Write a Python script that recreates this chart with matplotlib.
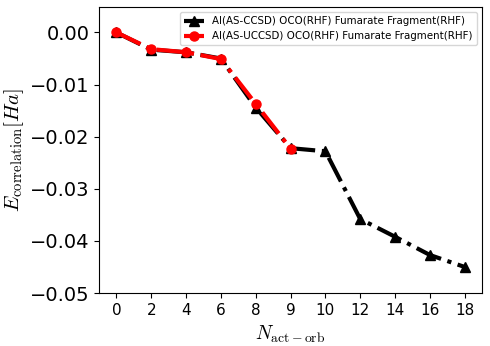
import numpy as np
import matplotlib
matplotlib.use("Agg")
import matplotlib.pyplot as plt

plt.rcParams["mathtext.fontset"] = "cm"

labels = ["0", "2", "4", "6", "8", "9", "10", "12", "14", "16", "18"]
ccsd = [0.0, -0.0033, -0.0038, -0.0050, -0.0144, -0.0222, -0.0228, -0.0358, -0.0392, -0.0427, -0.0450]
uccsd = [0.0, -0.0032, -0.0038, -0.0051, -0.0137, -0.0223]

x = np.arange(len(labels))

fig = plt.figure(figsize=(4.9, 3.46), dpi=100)
ax = fig.add_axes([0.202, 0.153, 0.782, 0.827])

ax.plot(x, ccsd, color="black", linestyle="-.", linewidth=3, marker="^", markersize=6.5,
        label="AI(AS-CCSD) OCO(RHF) Fumarate Fragment(RHF)")
ax.plot(x[:len(uccsd)], uccsd, color="red", linestyle="-.", linewidth=3, marker="o", markersize=6.5,
        label="AI(AS-UCCSD) OCO(RHF) Fumarate Fragment(RHF)")

ax.set_xticks(x)
ax.set_xticklabels(labels, fontsize=11)
ax.set_yticks([0.0, -0.01, -0.02, -0.03, -0.04, -0.05])
ax.tick_params(axis="y", labelsize=14)
ax.set_ylim(-0.05, 0.0049)
ax.set_xlabel(r"$N_{\rm act-orb}$", fontsize=14)
ax.set_ylabel(r"$E_{\rm correlation}[Ha]$", fontsize=15)
ax.yaxis.set_label_coords(-0.19, 0.5)
ax.legend(loc="upper right", fontsize=7.4)

fig.savefig("out.png", dpi=100)
